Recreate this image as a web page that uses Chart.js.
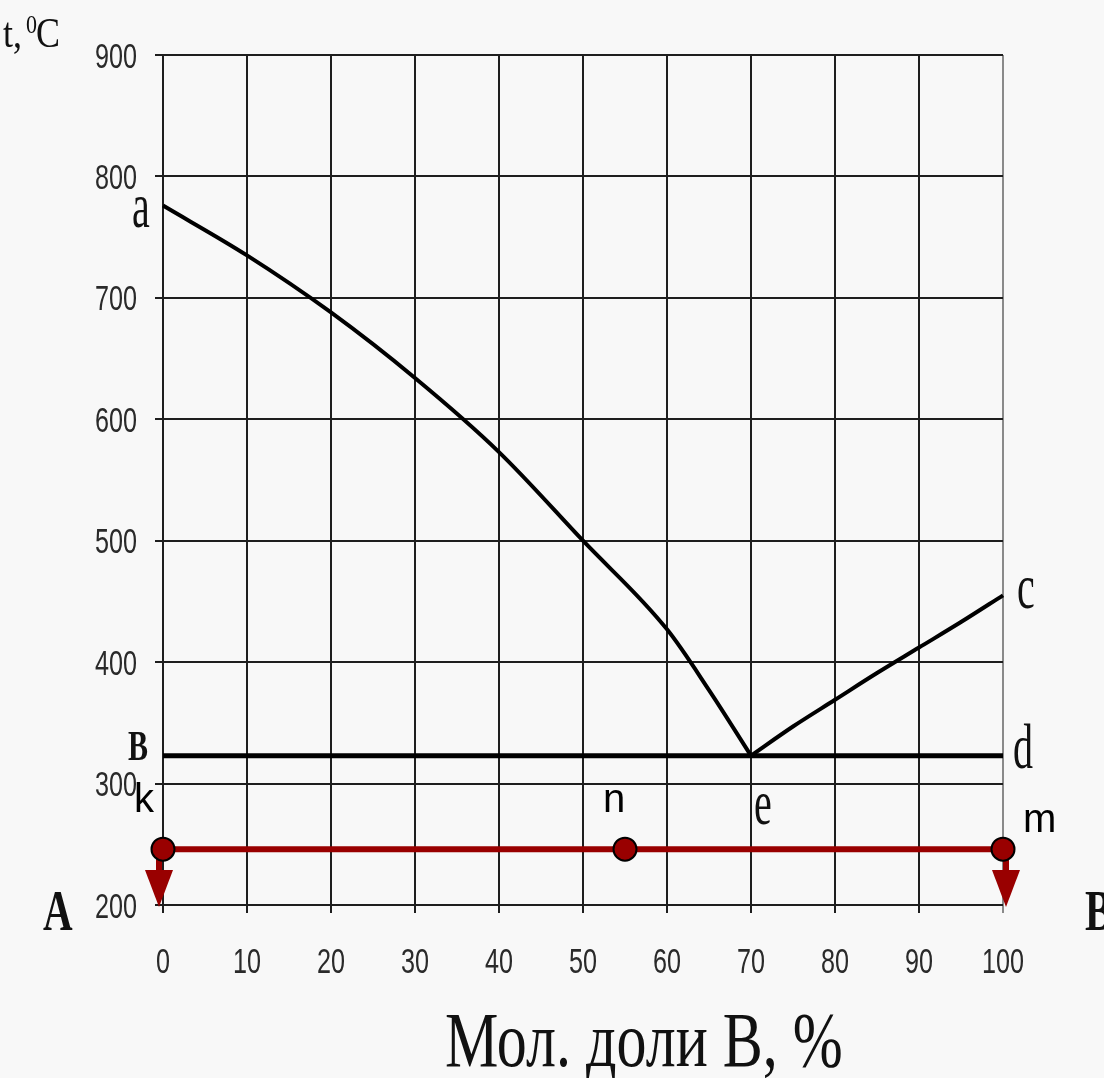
<!DOCTYPE html>
<html><head><meta charset="utf-8">
<script src="https://cdn.jsdelivr.net/npm/chart.js@4/dist/chart.umd.min.js"></script>
<style>html,body{margin:0;padding:0;background:#f8f8f8;overflow:hidden}#wrap{width:1104px;height:1078px}</style>
</head><body><div id="wrap"><canvas id="c" width="1104" height="1078"></canvas></div>
<script>
// ---- data ----
const xTicks = [0,10,20,30,40,50,60,70,80,90,100];
const yTicks = [200,300,400,500,600,700,800,900];
const liqLeftX = [0,10,20,30,40,50,60,65,70];
const liqLeftT = [776,735,688,634,573,500,427,377,323];
const liqRightX = [70,75,80,85,90,95,100];
const liqRightT = [323,347,369,391,412,433,455];
const eutX = [0,100];
const eutT = [323,323];
const pathX = [0,55,100];
const pathT = [246,246,246];
const pathNames = ['k','n','m'];
const arrowX = [0,100];
const arrowToT = 200;
const xTitle = 'Мол. доли B, %';
const yTitle = ['t, ', '0', 'C'];

const pts = (xs, ys) => xs.map((x,i)=>({x:x, y:ys[i]}));
const RED = '#990000';
const SERIF = '"Liberation Serif", "DejaVu Serif", serif';
const SANS = '"Liberation Sans", Arial, sans-serif';

function sText(ctx, txt, x, y, font, sy, color, sx, align){
  ctx.save(); ctx.translate(x,y); ctx.scale(sx||1,sy); ctx.font=font; ctx.fillStyle=color||'#111';
  ctx.textBaseline='alphabetic'; ctx.textAlign=align||'left'; ctx.fillText(txt,0,0); ctx.restore();
}

const bgPlugin = {id:'bg', beforeDraw(chart){const c=chart.ctx; c.save(); c.fillStyle='#f8f8f8'; c.fillRect(0,0,chart.width,chart.height); c.restore();}};

const tickLabels = {id:'tickLabels',
  afterDraw(chart){
    const ctx=chart.ctx, xs=chart.scales.x, ys=chart.scales.y;
    const f='35px '+SANS;
    xs.ticks.forEach(t=>sText(ctx,String(t.value), xs.getPixelForValue(t.value), ys.getPixelForValue(200)+68, f, 1, '#2a2a2a', 0.72, 'center'));
    ys.ticks.forEach(t=>sText(ctx,String(t.value), 137, ys.getPixelForValue(t.value)+12.5, f, 1, '#2a2a2a', 0.72, 'right'));
  }
};

const annot = {id:'annot',
  beforeDatasetsDraw(chart){
    const ctx=chart.ctx, xs=chart.scales.x, ys=chart.scales.y;
    arrowX.forEach((v,i)=>{
      const off = i===0 ? -4 : 3;
      const px = xs.getPixelForValue(v)+off, py0 = ys.getPixelForValue(pathT[i===0?0:pathT.length-1]);
      const tip = ys.getPixelForValue(arrowToT)+2;
      const headH = 37, headW = 28;
      ctx.save(); ctx.strokeStyle=RED; ctx.lineWidth=6; ctx.beginPath(); ctx.moveTo(px,py0); ctx.lineTo(px,tip-headH+2); ctx.stroke();
      ctx.fillStyle=RED; ctx.beginPath(); ctx.moveTo(px-headW/2,tip-headH); ctx.lineTo(px+headW/2,tip-headH); ctx.lineTo(px,tip); ctx.closePath(); ctx.fill(); ctx.restore();
    });
  },
  afterDraw(chart){
    const ctx=chart.ctx, xs=chart.scales.x, ys=chart.scales.y;
    const X=v=>xs.getPixelForValue(v), Y=v=>ys.getPixelForValue(v);
    const f40 = '40px '+SERIF;
    sText(ctx,'a', X(liqLeftX[0])-31, Y(liqLeftT[0])+21, f40, 1.6);
    sText(ctx,'c', X(100)+14, Y(liqRightT[liqRightT.length-1])+13, f40, 1.6);
    sText(ctx,'d', X(100)+10, Y(eutT[1])+12, f40, 1.6);
    sText(ctx,'e', X(70)+3, Y(eutT[0])+68, f40, 1.6);
    sText(ctx,'B', X(0)-35, Y(eutT[0])+4, 'bold 30px '+SERIF, 1.4);
    sText(ctx,'A', X(0)-120, Y(200)+25, 'bold 41px '+SERIF, 1.37);
    sText(ctx,'B', X(100)+82, Y(200)+25, 'bold 41px '+SERIF, 1.37);
    const offs=[[-29,-37],[-22,-37],[20,-17]];
    pathX.forEach((v,i)=>sText(ctx,pathNames[i], X(v)+offs[i][0], Y(pathT[i])+offs[i][1], '40px '+SANS, 1, '#000'));
    sText(ctx, xTitle, 445, 1066, '60px '+SERIF, 1.3, '#111');
    sText(ctx, yTitle[0], 3, 47, '36px '+SERIF, 1.15, '#111');
    sText(ctx, yTitle[1], 26, 33, '22px '+SERIF, 1.1, '#111');
    sText(ctx, yTitle[2], 36, 47, '36px '+SERIF, 1.15, '#111');
  }
};

new Chart(document.getElementById('c'), {
  type:'line',
  data:{datasets:[
    {data:pts(liqLeftX,liqLeftT), borderColor:'#000', borderWidth:4, pointRadius:0, cubicInterpolationMode:'monotone', clip:false},
    {data:pts(liqRightX,liqRightT), borderColor:'#000', borderWidth:4, pointRadius:0, cubicInterpolationMode:'monotone', clip:false},
    {data:pts(eutX,eutT), borderColor:'#000', borderWidth:5, pointRadius:0, clip:false},
    {data:pts(pathX,pathT), borderColor:RED, borderWidth:6, pointRadius:11.5, pointBackgroundColor:RED, pointBorderColor:'#000', pointBorderWidth:2, clip:false}
  ]},
  options:{
    responsive:false, devicePixelRatio:1, animation:false,
    layout:{padding:{left:0, top:55, right:101, bottom:0}},
    plugins:{legend:{display:false}, tooltip:{enabled:false}},
    scales:{
      x:{type:'linear', min:0, max:100,
        afterBuildTicks:s=>{s.ticks=xTicks.map(v=>({value:v}));},
        afterFit:s=>{s.height=173;},
        grid:{color:c=>(c.tick&&c.tick.value===100)?'#8a8a8a':'#1e1e1e', lineWidth:2, tickLength:8},
        border:{display:false},
        ticks:{display:false}
      },
      y:{type:'linear', min:200, max:900,
        afterBuildTicks:s=>{s.ticks=yTicks.map(v=>({value:v}));},
        afterFit:s=>{s.width=163;},
        grid:{color:'#1e1e1e', lineWidth:2, tickLength:8},
        border:{display:false},
        ticks:{display:false}
      }
    }
  },
  plugins:[bgPlugin, annot, tickLabels]
});
</script></body></html>
